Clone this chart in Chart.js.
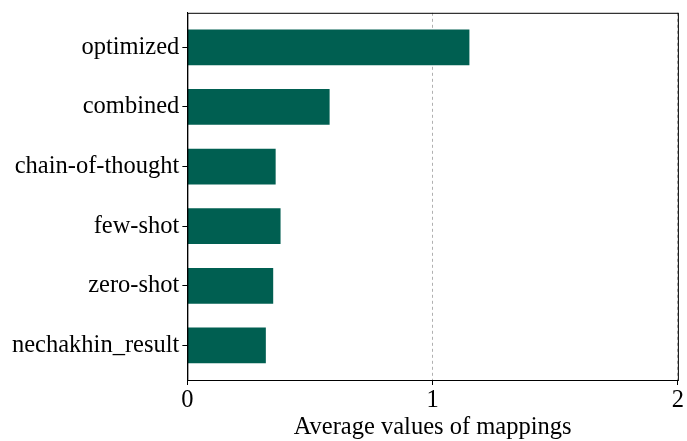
<!DOCTYPE html>
<html>
<head>
<meta charset="utf-8">
<script src="https://cdn.jsdelivr.net/npm/chart.js@4"></script>
<style>
  html, body { margin: 0; padding: 0; background: #fff; }
  #wrap { width: 687px; height: 441px; }
</style>
</head>
<body>
<div id="wrap"><canvas id="mappingsChart"></canvas></div>
<script>
// categories listed top to bottom
const categories = ['optimized', 'combined', 'chain-of-thought', 'few-shot', 'zero-shot', 'nechakhin_result'];
const averageValues = [1.15, 0.58, 0.36, 0.38, 0.35, 0.32];
const xTicks = [0, 1, 2];

const barColor = '#005f51';
const serif = "'Liberation Serif', 'Times New Roman', serif";

// draws the full box around the plot like matplotlib spines
const frameBox = {
    id: 'frameBox',
    afterDraw(chart) {
        const { ctx, chartArea: a } = chart;
        ctx.save();
        ctx.strokeStyle = '#000';
        ctx.lineWidth = 1;
        ctx.strokeRect(a.left + 0.5, a.top + 0.5, a.right - a.left, a.bottom - a.top);
        ctx.restore();
    }
};

const data = {
    datasets: [{
        label: 'Average values of mappings',
        data: averageValues.map((v, i) => ({ x: v, y: i })),
        backgroundColor: barColor,
        borderWidth: 0,
        barPercentage: 0.6,
        categoryPercentage: 1.0
    }]
};

const config = {
    type: 'bar',
    data,
    options: {
        indexAxis: 'y',
        responsive: true,
        maintainAspectRatio: false,
        animation: false,
        layout: { padding: { top: 2, right: -3, left: 9, bottom: 0 } },
        plugins: {
            legend: { display: false },
            tooltip: { enabled: false }
        },
        scales: {
            x: {
                type: 'linear',
                min: 0,
                max: 2,
                afterBuildTicks: scale => { scale.ticks = xTicks.map(v => ({ value: v })); },
                ticks: {
                    color: '#000',
                    font: { family: serif, size: 24.5, lineHeight: 1 },
                    padding: 3
                },
                grid: {
                    color: '#b0b0b0',
                    lineWidth: 1,
                    tickLength: 5,
                    tickColor: '#000',
                    tickBorderDash: []
                },
                border: { display: true, color: '#000', dash: [3, 3] },
                title: {
                    display: true,
                    text: 'Average values of mappings',
                    color: '#000',
                    font: { family: serif, size: 24.5, lineHeight: 1 },
                    padding: { top: 0, bottom: 1 }
                }
            },
            y: {
                type: 'linear',
                reverse: true,
                offset: false,
                min: -0.58,
                max: categories.length - 1 + 0.58,
                afterBuildTicks: scale => { scale.ticks = categories.map((c, i) => ({ value: i })); },
                ticks: {
                    color: '#000',
                    font: { family: serif, size: 24.5, lineHeight: 0.8 },
                    padding: 3,
                    callback: v => categories[v]
                },
                grid: {
                    offset: false,
                    drawOnChartArea: false,
                    tickLength: 5,
                    tickColor: '#000'
                },
                border: { display: true, color: '#000' }
            }
        }
    },
    plugins: [frameBox]
};

const mappingsChart = new Chart(document.getElementById('mappingsChart'), config);
</script>
</body>
</html>
